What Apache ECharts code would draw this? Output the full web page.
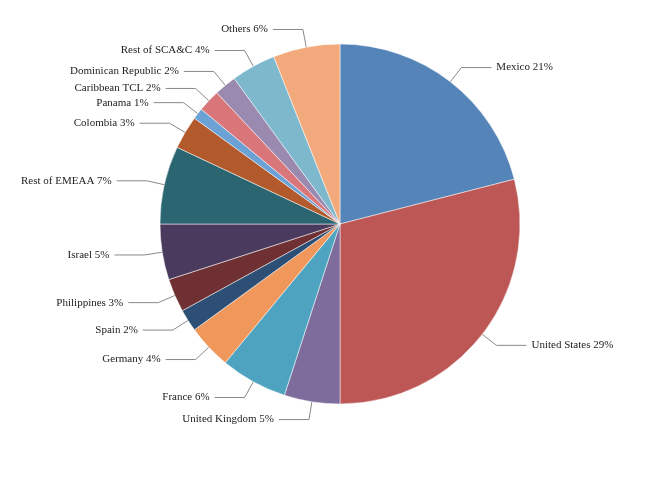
<!DOCTYPE html>
<html>
<head>
<meta charset="utf-8">
<script src="https://cdn.jsdelivr.net/npm/echarts@6/dist/echarts.min.js"></script>
<style>html,body{margin:0;background:#fff}#c{width:672px;height:488px}</style>
</head>
<body>
<div id="c"></div>
<script>
var names = ['Mexico', 'United States', 'United Kingdom', 'France', 'Germany', 'Spain', 'Philippines', 'Israel',
	'Rest of EMEAA', 'Colombia', 'Panama', 'Caribbean TCL', 'Dominican Republic', 'Rest of SCA&C', 'Others'];
var values = [21, 29, 5, 6, 4, 2, 3, 5, 7, 3, 1, 2, 2, 4, 6];
var colors = ['#5584b9', '#bc5755', '#7e6c9c', '#4ea4c0', '#f0975c', '#2d4f75', '#6e3032', '#4a3b5e',
	'#2b6571', '#b35a2c', '#6ba1d5', '#d9767a', '#9a8ab0', '#7db8cd', '#f2aa7d'];

var data = [];
for (var i = 0; i < names.length; i++) {
	data.push({ name: names[i], value: values[i], itemStyle: { color: colors[i] } });
}

var chart = echarts.init(document.getElementById('c'));
chart.setOption({
	animation: false,
	series: [{
		type: 'pie',
		center: [340, 224],
		radius: 180,
		startAngle: 90,
		clockwise: true,
		data: data,
		itemStyle: { borderWidth: 0.5, borderColor: '#fff' },
		label: {
			formatter: '{b} {c}%',
			fontFamily: 'Liberation Serif',
			fontSize: 11,
			color: '#222'
		},
		labelLine: {
			length: 18,
			length2: 30,
			lineStyle: { color: '#888', width: 1 }
		}
	}]
});
</script>
</body>
</html>
